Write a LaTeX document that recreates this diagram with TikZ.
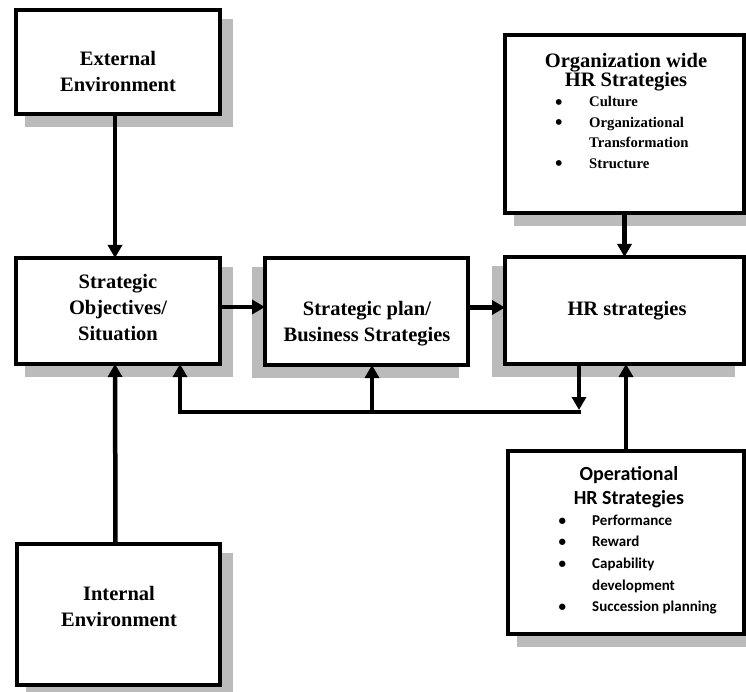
\documentclass[tikz,border=0pt]{standalone}
\usepackage{fontspec}
\setmainfont{Liberation Serif}
\newfontfamily\calibrifont{Carlito}
\usetikzlibrary{arrows.meta}
\definecolor{shade}{RGB}{187,187,187}
\newcommand{\bigdot}{\raisebox{-2.3pt}{\scalebox{1.45}{\textbullet}}}

\begin{document}
\begin{tikzpicture}[x=1pt,y=-1pt,
  box/.style={draw=black, line width=4.5pt, fill=white, rectangle,
    outer sep=0pt, inner sep=0pt},
  shadowR/.style={preaction={fill=shade, draw=shade,
    transform canvas={shift={(11pt,-11pt)}}}},
  shadowL/.style={preaction={fill=shade, draw=shade,
    transform canvas={shift={(-11pt,-11pt)}}}},
  conn/.style={line width=4.5pt, -{Triangle[length=13pt,width=14pt]}},
  plain/.style={line width=4.5pt},
  title/.style={font=\fontsize{20.5}{26}\selectfont\bfseries, align=center, anchor=base},
  items/.style={anchor=base west, inner sep=0pt},
]
\useasboundingbox (0,0) rectangle (746,692);

% boxes
\node[box, shadowR, minimum width=204pt, minimum height=104pt] (ext) at (118,62) {};
\node[box, shadowR, minimum width=204pt, minimum height=106pt] (so) at (118,311) {};
\node[box, shadowL, minimum width=203pt, minimum height=107pt] (sp) at (366.5,311.5) {};
\node[box, shadowL, minimum width=239pt, minimum height=107pt] (hr) at (624.5,310.5) {};
\node[box, shadowR, minimum width=239pt, minimum height=178pt] (org) at (624.5,124) {};
\node[box, shadowR, minimum width=236pt, minimum height=183pt] (op) at (626,542.5) {};
\node[box, shadowR, minimum width=203pt, minimum height=141pt] (int) at (118.5,614.5) {};

% box texts (anchored at the baseline of the last line)
\node[title] (extT) at (118,92) {External\\Environment};
\node[title] (soT) at (118,340) {Strategic\\Objectives/\\Situation};
\node[title] (spT) at (367,341) {Strategic plan/\\Business Strategies};
\node[title] (hrT) at (627,315) {HR strategies};
\node[title] (intT) at (119,626) {Internal\\Environment};
\node[title, font=\fontsize{20.5}{19.5}\selectfont\bfseries] (orgT) at (626,87)
  {Organization wide\\HR Strategies};
\node[title, font=\fontsize{20}{24}\selectfont\calibrifont\bfseries] (opT) at (629,504)
  {Operational\\HR Strategies};

% bullet lists
\node[items] (orgL) at (555,107) {\fontsize{14.7}{20.4}\selectfont\bfseries
  \begin{tabular}[t]{@{}p{34pt}@{}l@{}}
  \bigdot & Culture\\
  \bigdot & Organizational\\
          & Transformation\\
  \bigdot & Structure
  \end{tabular}};
\node[items] (opL) at (558.5,525) {\fontsize{15}{21.7}\selectfont\calibrifont\bfseries
  \begin{tabular}[t]{@{}p{33.5pt}@{}l@{}}
  \textbullet & Performance\\
  \textbullet & Reward\\
  \textbullet & Capability\\
              & development\\
  \textbullet & Succession planning
  \end{tabular}};

% feedback line below the middle row
\coordinate (fbL) at (180,412);
\coordinate (fbM) at (372,412);
\coordinate (fbR) at (579,412);

% connectors
\draw[conn] ([xshift=-3pt]ext.south) -- ([xshift=-3pt]so.north);
\draw[conn] ([xshift=-3pt]int.north) -- ([xshift=-3pt]so.south);
\draw[conn] ([yshift=4pt]so.east) -- ([yshift=4pt]so.east -| sp.west);
\draw[conn] ([yshift=4pt]sp.east) -- ([yshift=4pt]sp.east -| hr.west);
\draw[conn] (org.south) -- (org.south |- hr.north);
\draw[conn] (op.north) -- (op.north |- hr.south);
\draw[conn] (fbR |- hr.south) -- ([yshift=2pt]fbR);
\draw[plain] ([xshift=2.25pt]fbR) -- (fbL);
\draw[conn] ([yshift=-2.25pt]fbL) -- (fbL |- so.south);
\draw[conn] (fbM) -- (fbM |- sp.south);
\end{tikzpicture}
\end{document}
